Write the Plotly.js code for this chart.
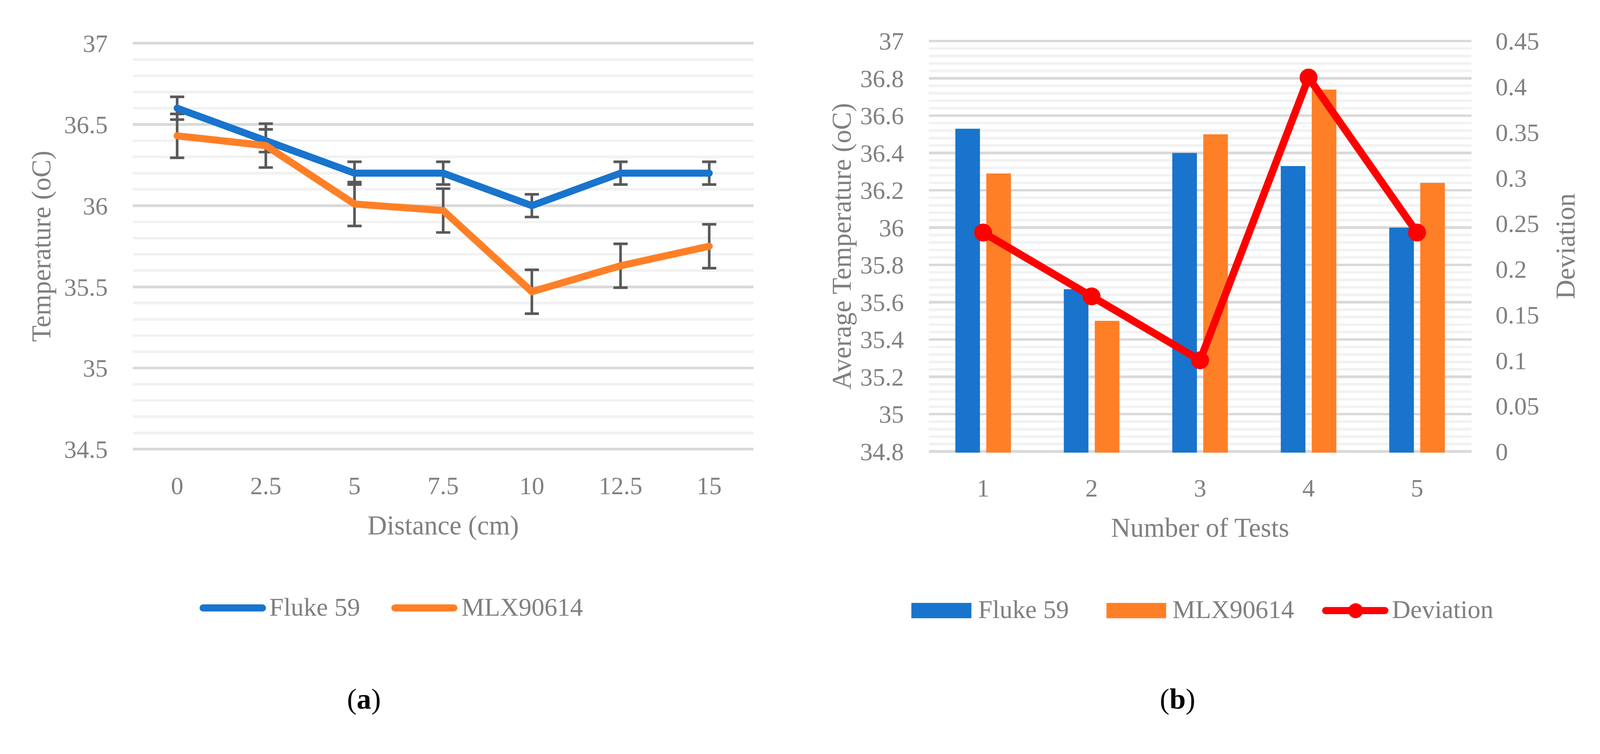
<!DOCTYPE html>
<html>
<head>
<meta charset="utf-8">
<script src="https://cdn.plot.ly/plotly-3.0.1.min.js"></script>
<style>
  html, body { margin: 0; padding: 0; background: #ffffff; overflow: hidden; }
  #chart { width: 4289px; height: 1930px; transform-origin: 0 0; }
</style>
</head>
<body>
<div id="chart"></div>
<script>
// ---------- data: panel (a) ----------
const distanceLabels = ['0', '2.5', '5', '7.5', '10', '12.5', '15'];
const flukeByDistance = [36.6, 36.4, 36.2, 36.2, 36.0, 36.2, 36.2];
const mlxByDistance = [36.43, 36.37, 36.01, 35.97, 35.47, 35.63, 35.75];
const flukeErr = [0.07, 0.07, 0.07, 0.07, 0.07, 0.07, 0.07];
const mlxErr = [0.135, 0.135, 0.135, 0.135, 0.135, 0.135, 0.135];

// ---------- data: panel (b) ----------
const testLabels = ['1', '2', '3', '4', '5'];
const flukeByTest = [36.53, 35.67, 36.40, 36.33, 36.00];
const mlxByTest = [36.29, 35.50, 36.50, 36.74, 36.24];
const deviationByTest = [0.24, 0.17, 0.10, 0.41, 0.24];

const seriesNames = ['Fluke 59', 'MLX90614', 'Deviation'];

// ---------- styling ----------
const W = 4289, H = 1930;
const BLUE = '#1874CD', ORANGE = '#FF7F27', RED = '#FF0000';
const TXT = '#808080';
const FONT = 'Liberation Serif';
const fx = px => px / W;
const fy = py => 1 - py / H;
const PAD = 3; // px of slack so the edge gridlines are drawn

// panel geometry (pixels)
const A = {x0: 356, x1: 2020, yTop: 116, yBot: 1204, vMin: 34.5, vMax: 37};
const B = {x0: 2490, x1: 3944, yTop: 110, yBot: 1210, vMin: 34.8, vMax: 37, dMin: 0, dMax: 0.45};
const kA = (A.vMax - A.vMin) / (A.yBot - A.yTop);
const kB = (B.vMax - B.vMin) / (B.yBot - B.yTop);
const kD = (B.dMax - B.dMin) / (B.yBot - B.yTop);

const tickFont = {family: FONT, size: 67, color: TXT};
const titleFont = {family: FONT, size: 72, color: TXT};
const legendFont = {family: FONT, size: 69, color: TXT};

const traces = [
  // error bars (drawn beneath the lines)
  {x: distanceLabels, y: flukeByDistance, type: 'scatter', mode: 'markers',
   marker: {opacity: 0, size: 1}, hoverinfo: 'skip', showlegend: false,
   error_y: {type: 'data', array: flukeErr, visible: true, color: '#595959', thickness: 7, width: 19},
   xaxis: 'x', yaxis: 'y'},
  {x: distanceLabels, y: mlxByDistance, type: 'scatter', mode: 'markers',
   marker: {opacity: 0, size: 1}, hoverinfo: 'skip', showlegend: false,
   error_y: {type: 'data', array: mlxErr, visible: true, color: '#595959', thickness: 7, width: 19},
   xaxis: 'x', yaxis: 'y'},
  // lines
  {x: distanceLabels, y: flukeByDistance, type: 'scatter', mode: 'lines+markers', name: seriesNames[0],
   line: {color: BLUE, width: 19}, marker: {color: BLUE, size: 19}, showlegend: false,
   xaxis: 'x', yaxis: 'y'},
  {x: distanceLabels, y: mlxByDistance, type: 'scatter', mode: 'lines+markers', name: seriesNames[1],
   line: {color: ORANGE, width: 19}, marker: {color: ORANGE, size: 19}, showlegend: false,
   xaxis: 'x', yaxis: 'y'},
  // bars
  {x: testLabels, y: flukeByTest, type: 'bar', name: seriesNames[0],
   marker: {color: BLUE}, showlegend: false, xaxis: 'x2', yaxis: 'y2'},
  {x: testLabels, y: mlxByTest, type: 'bar', name: seriesNames[1],
   marker: {color: ORANGE}, showlegend: false, xaxis: 'x2', yaxis: 'y2'},
  // deviation
  {x: testLabels, y: deviationByTest, type: 'scatter', mode: 'lines+markers', name: seriesNames[2],
   line: {color: RED, width: 20}, marker: {color: RED, size: 48}, showlegend: false,
   xaxis: 'x2', yaxis: 'y3'}
];

const catAxis = (domain, anchor, n, title) => ({
  domain: domain, anchor: anchor, type: 'category', range: [-0.5, n - 0.5],
  showgrid: false, zeroline: false, showline: false, ticks: '',
  tickfont: tickFont, ticklabelstandoff: 50, automargin: false,
  title: {text: title, font: titleFont, standoff: 44}
});

// legend swatch helpers (paper coordinates, px in)
const lineSwatch = (x0, x1, y, color, w) => {
  const r = w / 2;
  return [
    {type: 'line', xref: 'paper', yref: 'paper', x0: fx(x0 + r), x1: fx(x1 - r), y0: fy(y), y1: fy(y),
     line: {color: color, width: w}},
    {type: 'circle', xref: 'paper', yref: 'paper', x0: fx(x0), x1: fx(x0 + w), y0: fy(y + r), y1: fy(y - r),
     fillcolor: color, line: {width: 0}},
    {type: 'circle', xref: 'paper', yref: 'paper', x0: fx(x1 - w), x1: fx(x1), y0: fy(y + r), y1: fy(y - r),
     fillcolor: color, line: {width: 0}}
  ];
};

const layout = {
  width: W, height: H,
  autosize: false,
  margin: {l: 0, r: 0, t: 0, b: 0, pad: 0, autoexpand: false},
  paper_bgcolor: '#ffffff', plot_bgcolor: '#ffffff',
  showlegend: false,
  barmode: 'group', bargap: 0.429, bargroupgap: 0.205,
  xaxis: catAxis([fx(A.x0), fx(A.x1)], 'y', distanceLabels.length, 'Distance (cm)'),
  yaxis: {
    domain: [fy(A.yBot + PAD), fy(A.yTop - PAD)], anchor: 'x',
    range: [A.vMin - PAD * kA, A.vMax + PAD * kA],
    tickmode: 'linear', tick0: A.vMin, dtick: 0.5,
    showgrid: true, gridcolor: '#D9D9D9', gridwidth: 7,
    minor: {tickmode: 'linear', tick0: A.vMin, dtick: 0.1, showgrid: true, gridcolor: '#F2F2F2', gridwidth: 7, ticks: ''},
    zeroline: false, showline: false, ticks: '',
    tickfont: tickFont, ticklabelstandoff: 66, automargin: false,
    title: {text: 'Temperature (oC)', font: titleFont, standoff: 12}
  },
  xaxis2: catAxis([fx(B.x0), fx(B.x1)], 'y2', testLabels.length, 'Number of Tests'),
  yaxis2: {
    domain: [fy(B.yBot + PAD), fy(B.yTop - PAD)], anchor: 'x2',
    range: [B.vMin - PAD * kB, B.vMax + PAD * kB],
    tickmode: 'linear', tick0: B.vMin, dtick: 0.2,
    showgrid: true, gridcolor: '#D9D9D9', gridwidth: 7,
    minor: {tickmode: 'linear', tick0: B.vMin, dtick: 0.04, showgrid: true, gridcolor: '#F2F2F2', gridwidth: 7, ticks: ''},
    zeroline: false, showline: false, ticks: '',
    tickfont: tickFont, ticklabelstandoff: 66, automargin: false,
    title: {text: 'Average Temperature (oC)', font: titleFont, standoff: 0}
  },
  yaxis3: {
    overlaying: 'y2', side: 'right', anchor: 'x2',
    range: [B.dMin - PAD * kD, B.dMax + PAD * kD],
    tickmode: 'linear', tick0: 0, dtick: 0.05,
    showgrid: false, zeroline: false, showline: false, ticks: '',
    tickfont: tickFont, ticklabelstandoff: 64, automargin: false,
    title: {text: 'Deviation', font: titleFont, standoff: 45}
  },
  shapes: [].concat(
    // legend (a)
    lineSwatch(535, 713, 1629.5, BLUE, 19),
    lineSwatch(1049, 1226, 1629.5, ORANGE, 19),
    // legend (b)
    [
      {type: 'rect', xref: 'paper', yref: 'paper', x0: fx(2443), x1: fx(2604), y0: fy(1657), y1: fy(1616),
       fillcolor: BLUE, line: {width: 0}},
      {type: 'rect', xref: 'paper', yref: 'paper', x0: fx(2966), x1: fx(3126), y0: fy(1657), y1: fy(1616),
       fillcolor: ORANGE, line: {width: 0}}
    ],
    lineSwatch(3544, 3722, 1636.5, RED, 19),
    [
      {type: 'circle', xref: 'paper', yref: 'paper', x0: fx(3614), x1: fx(3654), y0: fy(1657), y1: fy(1617),
       fillcolor: RED, line: {width: 0}}
    ]
  ),
  annotations: [
    {text: seriesNames[0], xref: 'paper', yref: 'paper', x: fx(720), y: fy(1627), xanchor: 'left', yanchor: 'middle',
     showarrow: false, font: legendFont},
    {text: seriesNames[1], xref: 'paper', yref: 'paper', x: fx(1235), y: fy(1627), xanchor: 'left', yanchor: 'middle',
     showarrow: false, font: legendFont},
    {text: seriesNames[0], xref: 'paper', yref: 'paper', x: fx(2620), y: fy(1634), xanchor: 'left', yanchor: 'middle',
     showarrow: false, font: legendFont},
    {text: seriesNames[1], xref: 'paper', yref: 'paper', x: fx(3141), y: fy(1634), xanchor: 'left', yanchor: 'middle',
     showarrow: false, font: legendFont},
    {text: seriesNames[2], xref: 'paper', yref: 'paper', x: fx(3729), y: fy(1634), xanchor: 'left', yanchor: 'middle',
     showarrow: false, font: legendFont},
    {text: '(<b>a</b>)', xref: 'paper', yref: 'paper', x: fx(975), y: fy(1872), xanchor: 'center', yanchor: 'middle',
     showarrow: false, font: {family: FONT, size: 78, color: '#000000'}},
    {text: '(<b>b</b>)', xref: 'paper', yref: 'paper', x: fx(3156), y: fy(1872), xanchor: 'center', yanchor: 'middle',
     showarrow: false, font: {family: FONT, size: 78, color: '#000000'}}
  ]
};

// fit the fixed-size figure into whatever viewport the browser really has
const chartDiv = document.getElementById('chart');
const fit = Math.min(window.innerWidth / W, window.innerHeight / H, 1);
if (fit < 0.999) {
  chartDiv.style.transform = 'scale(' + fit + ')';
}

Plotly.newPlot(chartDiv, traces, layout, {displayModeBar: false, responsive: false, staticPlot: true});
</script>
</body>
</html>
